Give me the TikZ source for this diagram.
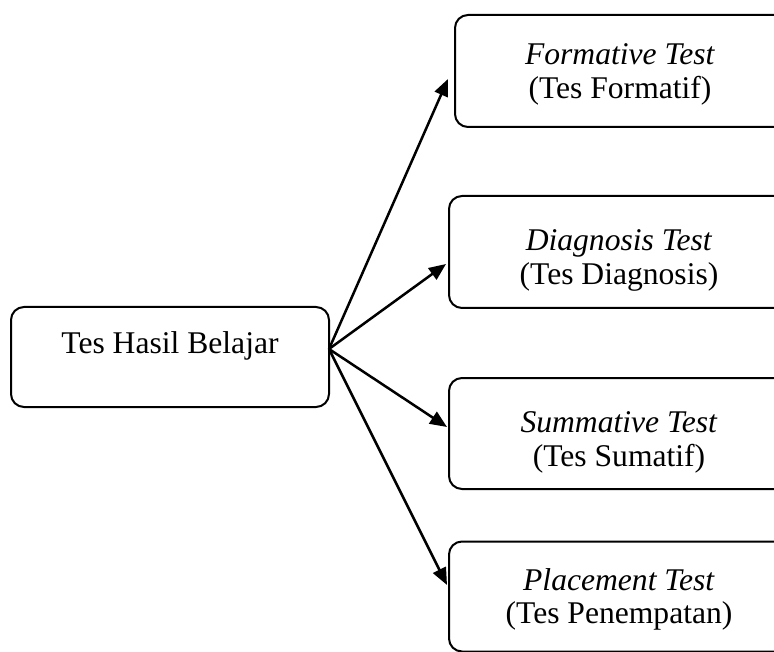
\documentclass[tikz,border=0pt]{standalone}
\usepackage{fontspec}
\setmainfont{Liberation Serif}
\usetikzlibrary{arrows.meta,calc}
\begin{document}
\begin{tikzpicture}[x=1pt,y=-1pt,
  box/.style={draw,line width=2pt,rounded corners=13pt,inner sep=0pt},
  lbl/.style={font=\fontsize{31.6}{34}\selectfont,anchor=base,inner sep=0pt},
  arr/.style={line width=2.5pt,-{Triangle[length=17pt,width=14pt]}}]
\useasboundingbox (0,0) rectangle (774,652);
\clip (0,0) rectangle (774,652);
% boxes
\node[box,minimum width=318pt,minimum height=100pt] (L) at (170,357) {};
\node[box,minimum width=332pt,minimum height=112pt] (B1) at (621,71) {};
\node[box,minimum width=340pt,minimum height=112pt] (B2) at (619,252) {};
\node[box,minimum width=340pt,minimum height=111pt] (B3) at (619,433.5) {};
\node[box,minimum width=340pt,minimum height=110pt] (B4) at (619,596.5) {};
% texts
\node[lbl] (Lt) at (170,353) {Tes Hasil Belajar};
\node[lbl] (B1a) at (620,65) {\textit{Formative Test}};
\node[lbl] (B1b) at (620,99) {(Tes Formatif)};
\node[lbl] (B2a) at (619,251) {\textit{Diagnosis Test}};
\node[lbl] (B2b) at (619,285) {(Tes Diagnosis)};
\node[lbl] (B3a) at (619,432) {\textit{Summative Test}};
\node[lbl] (B3b) at (619,466) {(Tes Sumatif)};
\node[lbl] (B4a) at (619,590) {\textit{Placement Test}};
\node[lbl] (B4b) at (619,623) {(Tes Penempatan)};
% arrow end points
\coordinate (o) at ($(L.east)+(-1,-8)$);
\coordinate (t1) at ($(B1.west)+(-6,8)$);
\coordinate (t2) at ($(B2.west)+(-2,12)$);
\coordinate (t3) at ($(B3.west)+(-1,-6.5)$);
\coordinate (t4) at ($(B4.west)+(-1,-11.5)$);
\draw[arr] (o) -- (t1);
\draw[arr] (o) -- (t2);
\draw[arr] (o) -- (t3);
\draw[arr] (o) -- (t4);
\end{tikzpicture}
\end{document}
